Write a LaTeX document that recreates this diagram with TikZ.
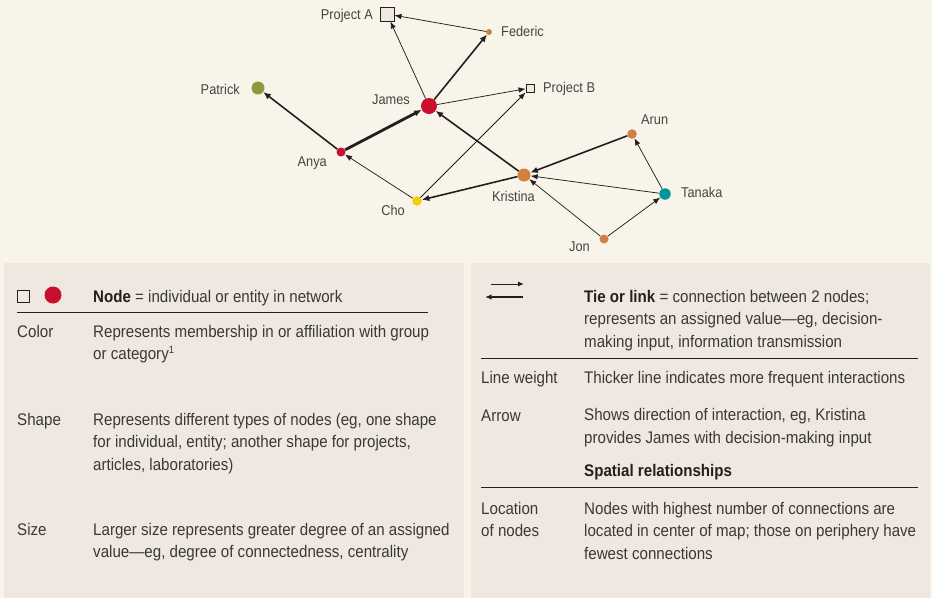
\documentclass[tikz,border=0pt]{standalone}
\usepackage{fontspec}
\setmainfont[FakeStretch=0.9]{Liberation Sans}
\usetikzlibrary{arrows.meta}
\definecolor{bg}{HTML}{F8F4EA}
\definecolor{panel}{HTML}{EEE8E1}
\definecolor{ink}{HTML}{231F20}
\definecolor{txt}{HTML}{3A3837}
\definecolor{lbltxt}{HTML}{454341}
\definecolor{nred}{HTML}{C8102E}
\definecolor{norange}{HTML}{D2803F}
\definecolor{nolive}{HTML}{8B9A3C}
\definecolor{nyellow}{HTML}{F2D000}
\definecolor{nteal}{HTML}{00979A}
\definecolor{sqfill}{HTML}{EEE8E1}
\begin{document}
\begin{tikzpicture}[x=1pt,y=-1pt,
  dot/.style={circle,inner sep=0pt,minimum size=#1},
  proj/.style={rectangle,draw=ink,fill=sqfill,inner sep=0pt,minimum size=#1,line width=0.9pt},
  lbl/.style={text=lbltxt,font=\fontsize{14.2}{16}\selectfont,inner sep=0pt},
  leg/.style={text=txt,font=\fontsize{16.8}{22.5}\selectfont,inner sep=0pt,align=left,anchor=base west},
  thinlink/.style={draw=ink,line width=0.75pt,-{Latex[length=7pt,width=5.5pt]}},
  midlink/.style={draw=ink,line width=1.6pt,-{Latex[length=7.5pt,width=6.5pt]}},
  thicklink/.style={draw=ink,line width=2.8pt,-{Latex[length=7.5pt,width=6.5pt]}},
  rule/.style={draw=ink,line width=0.9pt}
]
% background and panels
\fill[bg] (0,0) rectangle (932,598);
\fill[panel] (4,263) rectangle (464,598);
\fill[panel] (471,263) rectangle (930,598);
\useasboundingbox (0,0) rectangle (932,598);

% network nodes
\node[proj=14] (pa) at (387,14) {};
\node[proj=8] (pb) at (530,88) {};
\node[dot=6,fill=norange] (fed) at (489,32) {};
\node[dot=13,fill=nolive] (pat) at (258,88) {};
\node[dot=16,fill=nred] (jam) at (429,106) {};
\node[dot=9,fill=nred] (any) at (341,152) {};
\node[dot=13,fill=norange] (kri) at (524,175) {};
\node[dot=9.5,fill=nyellow] (cho) at (417,201) {};
\node[dot=9.5,fill=norange] (aru) at (632,134) {};
\node[dot=11.5,fill=nteal] (tan) at (665,194) {};
\node[dot=9,fill=norange] (jon) at (604,239) {};

% labels
\node[lbl,anchor=base east] (lpa) at (373,19) {Project A};
\node[lbl,anchor=base west] (lfed) at (501,36) {Federic};
\node[lbl,anchor=base east] (lpat) at (240,94) {Patrick};
\node[lbl,anchor=base east] (ljam) at (410,104) {James};
\node[lbl,anchor=base east] (lany) at (327,166) {Anya};
\node[lbl,anchor=base west] (lpb) at (543,92) {Project B};
\node[lbl,anchor=base west] (lkri) at (492,201) {Kristina};
\node[lbl,anchor=base east] (lcho) at (405,215) {Cho};
\node[lbl,anchor=base west] (laru) at (641,124) {Arun};
\node[lbl,anchor=base west] (ltan) at (681,197) {Tanaka};
\node[lbl,anchor=base east] (ljon) at (590,251) {Jon};

% links
\draw[thinlink] (jam) -- (pa);
\draw[thinlink] (fed) -- (pa);
\draw[midlink] (jam) -- (fed);
\draw[midlink] (any) -- (pat);
\draw[thicklink] (any) -- (jam);
\draw[thinlink] (jam) -- (pb);
\draw[thinlink] (cho) -- (pb);
\draw[thinlink] (cho) -- (any);
\draw[midlink] (kri) -- (jam);
\draw[midlink] (kri) -- (cho);
\draw[midlink] (aru) -- (kri);
\draw[thinlink] (tan) -- (kri);
\draw[thinlink] (jon) -- (kri);
\draw[thinlink] (tan) -- (aru);
\draw[thinlink] (jon) -- (tan);

% left legend (multi-line nodes: base = baseline of last line)
\node[proj=12,line width=0.8pt] (legsq) at (23,296) {};
\node[dot=17,fill=nred] (legdot) at (53,295) {};
\node[leg] (nodetitle) at (93,302) {\textcolor{ink}{\textbf{Node}} = individual or entity in network};
\coordinate (r1a) at (17,312);
\coordinate (r1b) at (428,312);
\draw[rule] (r1a) -- (r1b);
\node[leg] (colorh) at (17,337) {Color};
\node[leg] (colord) at (93,359.5) {Represents membership in or affiliation with group\\or category\textsuperscript{\fontsize{10.5}{11}\selectfont 1}};
\node[leg] (shapeh) at (17,425) {Shape};
\node[leg] (shaped) at (93,470) {Represents different types of nodes (eg, one shape\\for individual, entity; another shape for projects,\\articles, laboratories)};
\node[leg] (sizeh) at (17,535) {Size};
\node[leg] (sized) at (93,557.5) {Larger size represents greater degree of an assigned\\value---eg, degree of connectedness, centrality};

% right legend
\coordinate (ia) at (491,284);
\coordinate (ib) at (524,284);
\coordinate (ic) at (523,297);
\coordinate (id) at (485,297);
\draw[draw=ink,line width=1pt,-{Latex[length=6pt,width=5pt]}] (ia) -- (ib);
\draw[draw=ink,line width=2pt,-{Latex[length=6.5pt,width=5.5pt]}] (ic) -- (id);
\node[leg] (tietitle) at (584,347) {\textcolor{ink}{\textbf{Tie or link}} = connection between 2 nodes;\\represents an assigned value---eg, decision-\\making input, information transmission};
\coordinate (r2a) at (481,358);
\coordinate (r2b) at (918,358);
\draw[rule] (r2a) -- (r2b);
\node[leg] (lwh) at (481,383) {Line weight};
\node[leg] (lwd) at (584,383) {Thicker line indicates more frequent interactions};
\node[leg] (arrh) at (481,421) {Arrow};
\node[leg] (arrd) at (584,443) {Shows direction of interaction, eg, Kristina\\provides James with decision-making input};
\node[leg] (spat) at (584,476) {\textcolor{ink}{\textbf{Spatial relationships}}};
\coordinate (r3a) at (481,487);
\coordinate (r3b) at (918,487);
\draw[rule] (r3a) -- (r3b);
\node[leg] (loch) at (481,536.5) {Location\\of nodes};
\node[leg] (locd) at (584,559) {Nodes with highest number of connections are\\located in center of map; those on periphery have\\fewest connections};
\end{tikzpicture}
\end{document}
